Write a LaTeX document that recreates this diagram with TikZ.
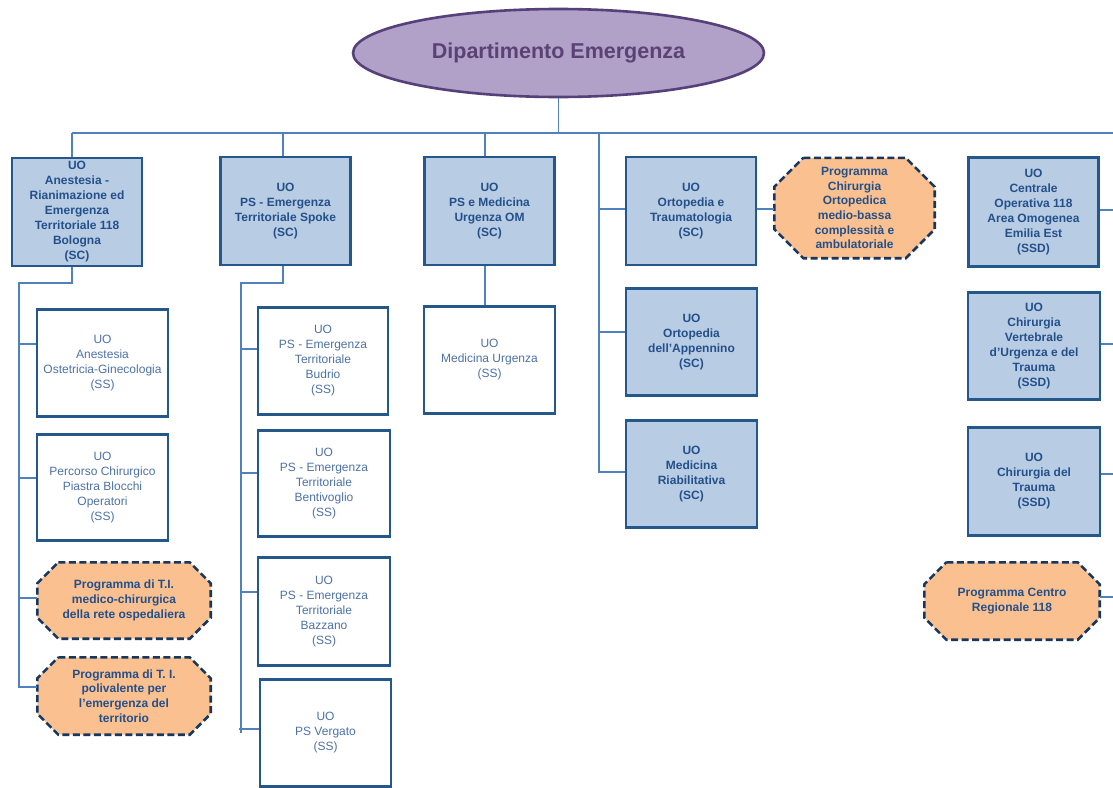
\documentclass[tikz,border=0pt]{standalone}
\usepackage{fontspec}
\setmainfont{Liberation Sans}
\usetikzlibrary{shapes.geometric,backgrounds}
\definecolor{boxf}{HTML}{B8CCE4}
\definecolor{boxd}{HTML}{25588A}
\definecolor{scT}{HTML}{24508A}
\definecolor{ssT}{HTML}{4D72A6}
\definecolor{connc}{HTML}{4F81BD}
\definecolor{octf}{HTML}{FAC090}
\definecolor{octd}{HTML}{17375E}
\definecolor{elf}{HTML}{B1A0C7}
\definecolor{eld}{HTML}{56407A}
\definecolor{elT}{HTML}{5B4275}
\newcommand\drawoct[2]{%
  \draw[octo] ([xshift=#2]#1.north west) -- ([xshift=-#2]#1.north east)
    -- ([yshift=-#2]#1.north east) -- ([yshift=#2]#1.south east)
    -- ([xshift=-#2]#1.south east) -- ([xshift=#2]#1.south west)
    -- ([yshift=#2]#1.south west) -- ([yshift=-#2]#1.north west) -- cycle;}
\begin{document}
\begin{tikzpicture}[x=1pt,y=-1pt,
  conn/.style={draw=connc, line width=1.5pt},
  sc/.style={rectangle, draw=boxd, fill=boxf, line width=2.6pt,
    minimum width=130pt, minimum height=108pt, inner sep=0pt, align=center,
    text=scT, font=\fontsize{12}{15}\selectfont\bfseries},
  ss/.style={sc, fill=white, text=ssT, font=\fontsize{12}{15}\selectfont},
  prog/.style={rectangle, inner sep=0pt, align=center, text=scT,
    font=\fontsize{12}{14.7}\selectfont\bfseries},
  octo/.style={draw=octd, fill=octf, line width=2.6pt, dash pattern=on 7pt off 3.5pt},
  dip/.style={ellipse, draw=eld, fill=elf, line width=2.6pt, inner sep=0pt,
    minimum width=411pt, minimum height=88pt, text=elT,
    font=\fontsize{21.5}{24}\selectfont\bfseries}]
\useasboundingbox (0,0) rectangle (1113,787);
\clip (0,0) rectangle (1113,787);

\node[dip] (dip) at (558.5,53) {Dipartimento Emergenza};

\node[sc] (b1) at (77,212) {UO\\Anestesia -\\Rianimazione ed\\Emergenza\\Territoriale 118\\Bologna\\(SC)};
\node[sc] (b2) at (285.5,211) {UO\\PS - Emergenza\\Territoriale Spoke\\(SC)};
\node[sc] (b3) at (489.5,211) {UO\\PS e Medicina\\Urgenza OM\\(SC)};
\node[sc] (b4) at (691,211) {UO\\Ortopedia e\\Traumatologia\\(SC)};
\node[prog, minimum width=160pt, minimum height=100pt] (chir) at (854.5,208) {Programma\\Chirurgia\\Ortopedica\\medio-bassa\\complessità e\\ambulatoriale};
\node[sc, minimum height=109pt] (centrale) at (1033.5,212) {UO\\Centrale\\Operativa 118\\Area Omogenea\\Emilia Est\\(SSD)};

\node[ss, minimum width=131pt, minimum height=107pt] (aost) at (102.5,363) {UO\\Anestesia\\Ostetricia-Ginecologia\\(SS)};
\node[ss, minimum width=131pt, minimum height=106pt] (perc) at (102.5,487.5) {UO\\Percorso Chirurgico\\Piastra Blocchi\\Operatori\\(SS)};
\node[prog, minimum width=173pt, minimum height=76pt] (pti1) at (124,600.5) {Programma di T.I.\\medico-chirurgica\\della rete ospedaliera};
\node[prog, minimum width=173pt, minimum height=77pt] (pti2) at (124,696) {Programma di T. I.\\polivalente per\\l’emergenza del\\territorio};

\node[ss, minimum width=130pt, minimum height=107pt] (budrio) at (323,361) {UO\\PS - Emergenza\\Territoriale\\Budrio\\(SS)};
\node[ss, minimum width=132pt, minimum height=106pt] (bentiv) at (324,483.5) {UO\\PS - Emergenza\\Territoriale\\Bentivoglio\\(SS)};
\node[ss, minimum width=132pt, minimum height=108pt] (bazzano) at (324,611.5) {UO\\PS - Emergenza\\Territoriale\\Bazzano\\(SS)};
\node[ss, minimum width=131pt, minimum height=107pt] (vergato) at (325.5,733) {UO\\PS Vergato\\(SS)};

\node[ss, minimum width=131pt, minimum height=107pt] (medurg) at (489.5,360) {UO\\Medicina Urgenza\\(SS)};

\node[sc, minimum width=131pt, minimum height=107pt] (ortapp) at (691.5,342) {UO\\Ortopedia\\dell’Appennino\\(SC)};
\node[sc, minimum width=131pt, minimum height=107pt] (medriab) at (691.5,474) {UO\\Medicina\\Riabilitativa\\(SC)};

\node[sc, minimum width=132pt, minimum height=107pt] (chirvert) at (1034,346) {UO\\Chirurgia\\Vertebrale\\d’Urgenza e del\\Trauma\\(SSD)};
\node[sc, minimum width=132pt, minimum height=108pt] (chirtrauma) at (1034,481.5) {UO\\Chirurgia del\\Trauma\\(SSD)};
\node[prog, minimum width=175pt, minimum height=77pt] (progcentro) at (1012,601) {Programma Centro\\Regionale 118};

\begin{scope}[on background layer]
\fill[white] (0,0) rectangle (1113,787);
\drawoct{chir}{29pt}
\drawoct{pti1}{21pt}
\drawoct{pti2}{21pt}
\drawoct{progcentro}{22pt}
\end{scope}

% main bus
\coordinate (busL) at (72,133);
\coordinate (busR) at (1125,133);
\coordinate (v4) at (599,133);
\coordinate (rbus) at (1125,0);
\coordinate (k1) at (19,283);
\coordinate (k2) at (241,283);
\coordinate (k2tick) at (239,0);
\draw[conn] (dip.south) -- (dip.south |- busL);
\draw[conn] (busL) -- (busR);
\draw[conn] (busL) -- ([xshift=-5pt]b1.north);
\draw[conn] ([xshift=-2.5pt]b2.north |- busL) -- ([xshift=-2.5pt]b2.north);
\draw[conn] ([xshift=-4.5pt]b3.north |- busL) -- ([xshift=-4.5pt]b3.north);

% column 1
\draw[conn] ([xshift=-5pt]b1.south) |- (k1) |- ([yshift=9pt]pti2.west);
\draw[conn] ([yshift=19pt]aost.west) -- ([yshift=19pt]aost.west -| k1);
\draw[conn] ([yshift=9.5pt]perc.west) -- ([yshift=9.5pt]perc.west -| k1);
\draw[conn] ([yshift=2.5pt]pti1.west) -- ([yshift=2.5pt]pti1.west -| k1);

% column 2
\draw[conn] ([xshift=-2.5pt]b2.south) |- (k2) -- (k2 |- vergato.west);
\draw[conn] ([yshift=12pt]budrio.west) -- ([yshift=12pt]budrio.west -| k2);
\draw[conn] ([yshift=10.5pt]bentiv.west) -- ([yshift=10.5pt]bentiv.west -| k2);
\draw[conn] ([yshift=19.5pt]bazzano.west) -- ([yshift=19.5pt]bazzano.west -| k2);
\draw[conn] ([yshift=4pt]vergato.west) -- ([yshift=4pt]vergato.west -| k2tick);

% column 3
\draw[conn] ([xshift=-4.5pt]b3.south) -- ([xshift=-4.5pt]b3.south |- medurg.north);

% column 4
\draw[conn] (v4) |- ([yshift=2pt]medriab.west);
\draw[conn] ([yshift=2pt]b4.west) -- ([yshift=2pt]b4.west -| v4);
\draw[conn] ([yshift=10pt]ortapp.west) -- ([yshift=10pt]ortapp.west -| v4);
\draw[conn] ([yshift=2pt]b4.east) -- ([yshift=2pt]b4.east -| chir.west);

% right column
\draw[conn] ([yshift=2pt]centrale.east) -- ([yshift=2pt]centrale.east -| rbus);
\draw[conn] ([yshift=2pt]chirvert.east) -- ([yshift=2pt]chirvert.east -| rbus);
\draw[conn] ([yshift=7.5pt]chirtrauma.east) -- ([yshift=7.5pt]chirtrauma.east -| rbus);
\draw[conn] ([yshift=4pt]progcentro.east) -- ([yshift=4pt]progcentro.east -| rbus);
\end{tikzpicture}
\end{document}
